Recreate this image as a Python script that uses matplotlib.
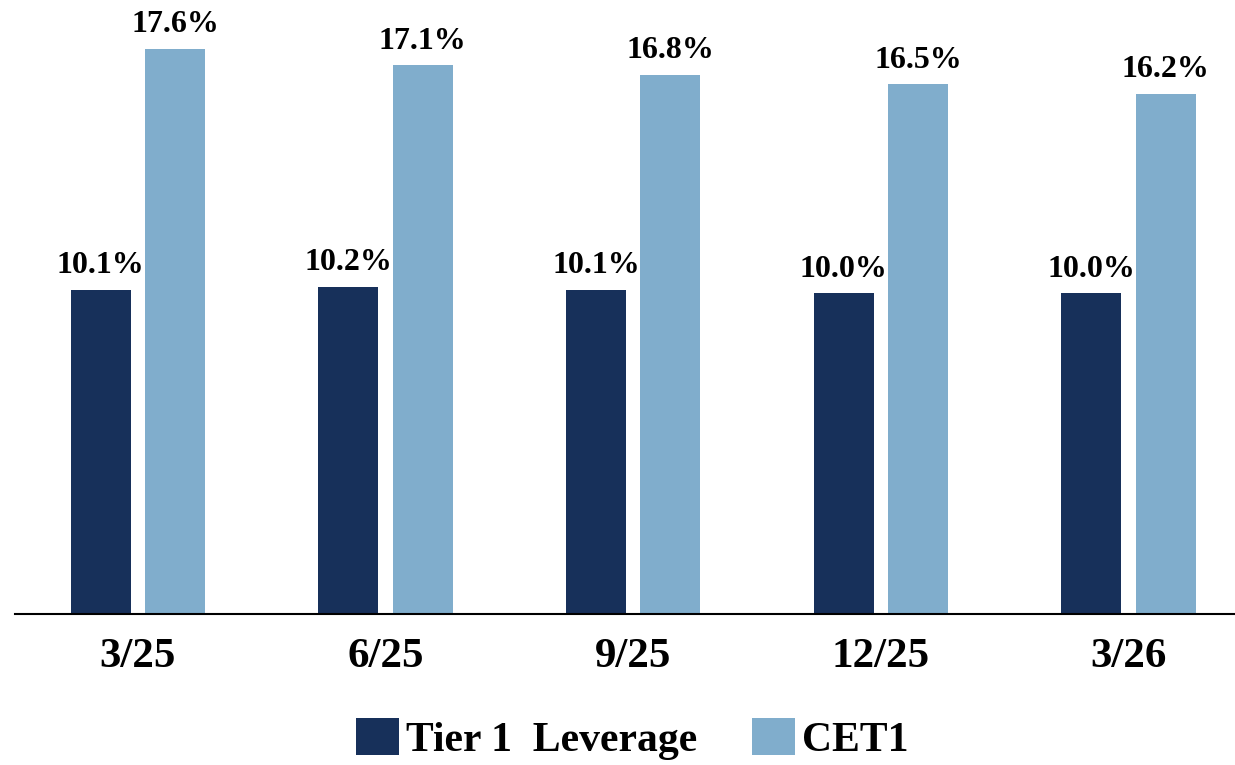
import matplotlib
matplotlib.use('Agg')
from matplotlib import pyplot as plt
import numpy as np

# quarter-end data
quarters = ["3/25", "6/25", "9/25", "12/25", "3/26"]
tier1_leverage = [10.1, 10.2, 10.1, 10.0, 10.0]
cet1 = [17.6, 17.1, 16.8, 16.5, 16.2]

dark = "#17305A"
light = "#80ADCC"

plt.rcParams['font.family'] = ['Liberation Serif', 'DejaVu Serif']
plt.rcParams['font.weight'] = 'bold'

fig = plt.figure(figsize=(12.35, 7.65), dpi=100)
ax = fig.add_axes([0.012, 0.197, 0.988, 0.803])

x = np.arange(len(quarters))
w = 0.242
off = 0.15
b1 = ax.bar(x - off, tier1_leverage, w, color=dark, label="Tier 1  Leverage")
b2 = ax.bar(x + off, cet1, w, color=light, label="CET1")

for bars, vals in ((b1, tier1_leverage), (b2, cet1)):
    for rect, v in zip(bars, vals):
        ax.annotate("%.1f%%" % v, (rect.get_x() + rect.get_width() / 2, v),
                    xytext=(0, 12), textcoords='offset points',
                    ha='center', va='baseline', fontsize=23, fontweight='bold')

ax.set_xlim(-0.497, 4.43)
ax.set_ylim(0, 19.13)
ax.set_xticks(x)
ax.set_xticklabels(quarters, fontsize=31, fontweight='bold')
ax.tick_params(axis='x', length=0, pad=17)
ax.set_yticks([])
for s in ['top', 'right', 'left']:
    ax.spines[s].set_visible(False)
ax.spines['bottom'].set_linewidth(1.5)
ax.spines['bottom'].set_color('black')

fig.legend(handles=[b1, b2], loc='center', bbox_to_anchor=(0.512, 0.034),
           ncol=2, frameon=False, prop={'size': 30, 'weight': 'bold'},
           handlelength=1.03, handleheight=1.0, handletextpad=0.17,
           columnspacing=1.3, borderpad=0)

plt.savefig('out.png', dpi=100)
plt.close()
